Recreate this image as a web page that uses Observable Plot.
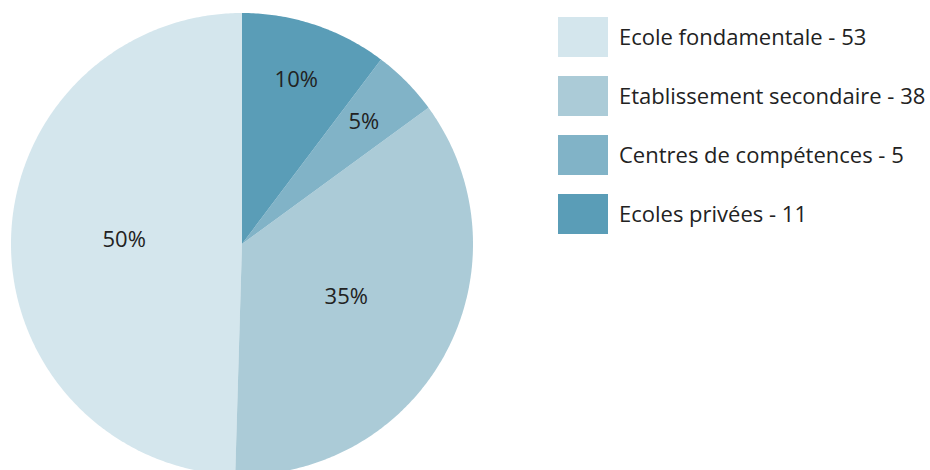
<!DOCTYPE html>
<html>
<head>
<meta charset="utf-8">
<script src="https://cdn.jsdelivr.net/npm/d3@7"></script>
<script src="https://cdn.jsdelivr.net/npm/@observablehq/plot@0.6"></script>
<style>
  html, body { margin: 0; padding: 0; background: #fff; }
  #wrap { position: relative; width: 930px; height: 470px; overflow: hidden; font-family: "Open Sans", sans-serif; }
  #chart { position: absolute; left: 0; top: 0; }
  #legend { position: absolute; left: 558px; top: 17px; }
  .row { display: flex; align-items: center; height: 40px; margin-bottom: 19px; }
  .sw { width: 50px; height: 40px; margin-right: 11px; }
  .lab { font-size: 22px; color: #222; white-space: nowrap; line-height: 1; margin-top: -2px; }
</style>
</head>
<body>
<div id="wrap"><div id="chart"></div><div id="legend"></div></div>
<script>
const categories = ["Ecole fondamentale", "Etablissement secondaire", "Centres de compétences", "Ecoles privées"];
const values = [53, 38, 5, 11];
const colors = ["#d4e6ed", "#abcbd7", "#81b3c7", "#5a9db7"];

const total = d3.sum(values);
// largest-remainder rounding of percentages
const raw = values.map(v => v / total * 100);
const pct = raw.map(Math.floor);
let rest = 100 - d3.sum(pct);
d3.range(raw.length).sort((a, b) => (raw[b] - pct[b]) - (raw[a] - pct[a])).slice(0, rest).forEach(i => pct[i]++);

const arcs = d3.pie().sort(null).startAngle(0).endAngle(-2 * Math.PI)(values);

const polys = [];
const labels = [];
arcs.forEach((a, i) => {
  const n = Math.max(2, Math.ceil(Math.abs(a.endAngle - a.startAngle) / 0.01));
  polys.push({cat: categories[i], x: 0, y: 0});
  for (let k = 0; k <= n; k++) {
    const t = a.startAngle + (a.endAngle - a.startAngle) * k / n;
    polys.push({cat: categories[i], x: Math.sin(t), y: Math.cos(t)});
  }
  polys.push({cat: categories[i], x: 0, y: 0});
  const mid = (a.startAngle + a.endAngle) / 2;
  const share = values[i] / total;
  const r = share < 0.15 ? 0.74 : 0.51;
  labels.push({text: pct[i] + "%", x: r * Math.sin(mid), y: r * Math.cos(mid)});
});

const cx = 241.5, cy = 243.5, R = 231;
const plot = Plot.plot({
  width: 500,
  height: 470,
  margin: 0,
  x: {domain: [-1, 1], range: [cx - R, cx + R], axis: null},
  y: {domain: [-1, 1], range: [cy + R, cy - R], axis: null},
  color: {domain: categories, range: colors},
  style: {fontFamily: "Open Sans, sans-serif", overflow: "hidden"},
  marks: [
    Plot.line(polys, {x: "x", y: "y", z: "cat", fill: "cat", stroke: "none", curve: "linear"}),
    Plot.text(labels, {x: "x", y: "y", text: "text", fontSize: 22, fill: "#222", textAnchor: "middle", dy: -2})
  ]
});
document.getElementById("chart").appendChild(plot);

const legend = document.getElementById("legend");
categories.forEach((c, i) => {
  const row = document.createElement("div");
  row.className = "row";
  const sw = document.createElement("div");
  sw.className = "sw";
  sw.style.background = colors[i];
  const lab = document.createElement("div");
  lab.className = "lab";
  lab.textContent = c + " - " + values[i];
  row.appendChild(sw);
  row.appendChild(lab);
  legend.appendChild(row);
});
</script>
</body>
</html>
